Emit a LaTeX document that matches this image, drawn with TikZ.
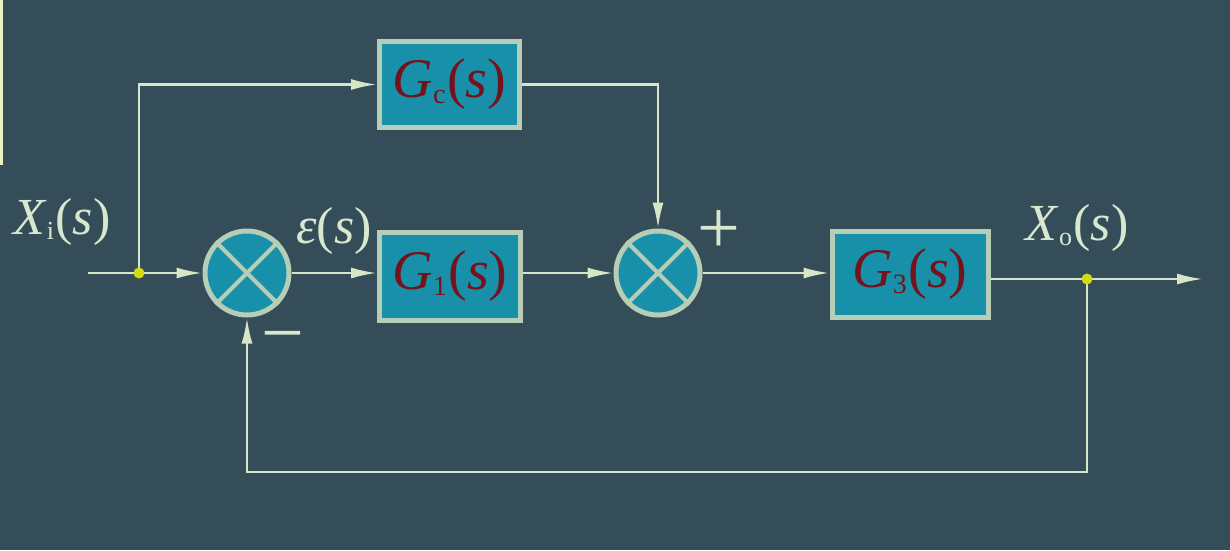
\documentclass[tikz,border=0pt]{standalone}
\usepackage{graphicx}
\usepackage{fontspec}
\setmainfont{Liberation Serif}
\newfontfamily\tms{Liberation Serif}
\usetikzlibrary{arrows.meta}
\definecolor{bgc}{RGB}{52,77,89}
\definecolor{boxfill}{RGB}{24,144,170}
\definecolor{boxedge}{RGB}{182,205,182}
\definecolor{wire}{RGB}{214,230,198}
\definecolor{lbl}{RGB}{216,232,208}
\definecolor{gtxt}{RGB}{118,18,28}
\definecolor{dotc}{RGB}{212,220,16}
\definecolor{strip}{RGB}{232,242,196}
\tikzset{
  blk/.style={draw=boxedge, line width=5pt, fill=boxfill, inner sep=0pt,
    text=gtxt, font=\tms\fontsize{56}{60}\selectfont},
  sumc/.style={circle, draw=boxedge, line width=5pt, fill=boxfill, minimum size=84pt, inner sep=0pt},
  wireln/.style={draw=wire, line width=2.5pt},
  arr/.style={wireln, -{Latex[length=26pt,width=11pt]}},
  lab/.style={text=lbl, font=\tms\fontsize{52}{56}\selectfont, inner sep=0pt},
  sgn/.style={text=lbl, font=\tms\fontsize{76}{80}\selectfont, inner sep=0pt},
  jdot/.style={circle, fill=dotc, minimum size=11pt, inner sep=0pt}
}
\newcommand\tf[2]{\textit{#1}\raisebox{-0.1em}{\scalebox{0.5}{#2}}\kern0.03em(\textit{s})}
\begin{document}
\begin{tikzpicture}[x=1pt,y=-1pt]
\fill[bgc] (0,0) rectangle (1230,550);
\useasboundingbox (0,0) rectangle (1230,550);
\fill[strip] (0,0) rectangle (3,165);
% blocks
\node[blk, minimum width=140pt, minimum height=86pt] (gc) at (449.5,84.5) {\tf{G}{c}};
\node[blk, minimum width=141pt, minimum height=88pt] (g1) at (450,276) {\tf{G}{1}};
\node[blk, minimum width=156pt, minimum height=86pt] (g3) at (910,274) {\tf{G}{3}};
\node[sumc] (s1) at (247,273) {};
\node[sumc] (s2) at (658,273) {};
\foreach \s in {s1,s2}{
  \draw[boxedge, line width=4pt] (\s.north east) -- (\s.south west);
  \draw[boxedge, line width=4pt] (\s.north west) -- (\s.south east);
}
% coordinates
\coordinate (in) at (88,273);
\coordinate (j1) at (139,273);
\coordinate (j2) at (1087,279);
\coordinate (out) at (1203,279);
\coordinate (fb) at (1087,472);
% wires
\draw[wireln] (in) -- (j1);
\draw[arr] (j1) -- (s1.west);
\draw[arr] (j1) |- (gc.west);
\draw[arr] (gc.east) -| (s2.north);
\draw[arr] (s1.east) -- (s1.east -| g1.west);
\draw[arr] (g1.east |- s2.west) -- (s2.west);
\draw[arr] (s2.east) -- (s2.east -| g3.west);
\draw[wireln] (j2 -| g3.east) -- (j2);
\draw[arr] (j2) -- (out);
\draw[arr] (j2) -- (fb) -| (s1.south);
\node[jdot] (d1) at (j1) {};
\node[jdot] (d2) at (j2) {};
% labels
\node[lab] (xi) at (62,222) {\tf{X}{i}};
\node[lab] (eps) at (334,231) {\textit{ε}(\textit{s})};
\node[lab] (xo) at (1077,228) {\tf{X}{o}};
\node[sgn] (plus) at (719,232) {+};
\node[sgn] (minus) at (283,345) {−};
\end{tikzpicture}
\end{document}
